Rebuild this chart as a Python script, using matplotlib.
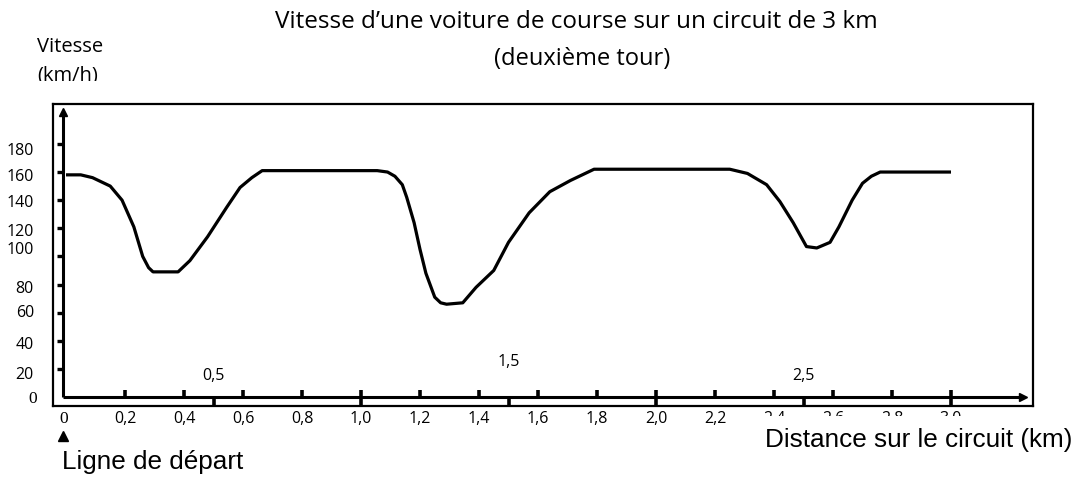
import matplotlib
matplotlib.use("Agg")
import matplotlib.pyplot as plt
from matplotlib.transforms import Bbox, TransformedBbox

# ---------------- data ----------------
distance_km = [0.0, 0.05, 0.09, 0.15, 0.19, 0.23, 0.26, 0.28, 0.295, 0.38, 0.42, 0.48,
               0.545, 0.59, 0.63, 0.665, 1.055, 1.09, 1.115, 1.14, 1.155, 1.18, 1.2, 1.22,
               1.25, 1.27, 1.29, 1.345, 1.39, 1.45, 1.5, 1.57, 1.64, 1.71, 1.79, 2.25,
               2.31, 2.375, 2.42, 2.465, 2.51, 2.545, 2.59, 2.62, 2.665, 2.70, 2.73,
               2.76, 3.0]
speed_kmh = [158, 158, 156, 150, 140, 121, 100, 92, 89, 89, 97, 114,
             135, 149, 156, 161, 161, 160, 157, 151, 142, 124, 105, 88,
             71, 67, 66, 67, 78, 90, 110, 131, 146, 154, 162, 162,
             159, 151, 139, 124, 107, 106, 110, 121, 140, 152, 157,
             160, 160]

y_ticks = [0, 20, 40, 60, 80, 100, 120, 140, 160, 180]
y_tick_labels = ["0", "20", "40", "60", "80", "100", "120", "140", "160", "180"]
x_minor_ticks = [0.2, 0.4, 0.6, 0.8, 1.2, 1.4, 1.6, 1.8, 2.2, 2.4, 2.6, 2.8]
x_major_ticks = [1.0, 2.0, 3.0]
x_half_ticks = [0.5, 1.5, 2.5]
x_half_labels = ["0,5", "1,5", "2,5"]
x_labels_pos = [0.2, 0.4, 0.6, 0.8, 1.0, 1.2, 1.4, 1.6, 1.8, 2.0, 2.2, 2.4, 2.6, 2.8, 3.0]
x_labels = ["0,2", "0,4", "0,6", "0,8", "1,0", "1,2", "1,4", "1,6", "1,8", "2,0",
            "2,2", "2,4", "2,6", "2,8", "3,0"]

# ---------------- layout ----------------
W, H = 1076, 483
fig = plt.figure(figsize=(W / 100, H / 100), dpi=100)
fig.patch.set_facecolor("white")

fl, fr, ft, fb = 53, 1033, 104, 406  # frame px
ax = fig.add_axes([fl / W, 1 - fb / H, (fr - fl) / W, (fb - ft) / H])

x0px, pxkm = 66.0, 295.0
y0px, pxu = 397.0, 1.406


def dx(px):
    return (px - x0px) / pxkm


def dy(py):
    return (y0px - py) / pxu


ax.set_xlim(dx(fl), dx(fr))
ax.set_ylim(dy(fb), dy(ft))
ax.set_xticks([])
ax.set_yticks([])
for s in ax.spines.values():
    s.set_linewidth(1.6)
    s.set_color("black")

CAL = ["Open Sans", "DejaVu Sans"]
ARI = ["Liberation Sans", "DejaVu Sans"]
SER = ["Liberation Serif", "DejaVu Serif"]
TICK_FS = 11.5

# axes lines
yaxis_x = dx(63)
ax.plot([yaxis_x, yaxis_x], [0, dy(114)], color="black", lw=2.2, solid_capstyle="butt")
ax.plot([yaxis_x], [dy(112)], marker="^", ms=6, color="black")
ax.plot([yaxis_x, dx(1020)], [0, 0], color="black", lw=2.2, solid_capstyle="butt")
ax.plot([dx(1023)], [0], marker=">", ms=6, color="black")

# y ticks
ax.hlines(y_ticks[1:], dx(57), yaxis_x, color="black", lw=2.4)
# x ticks
ax.vlines(x_minor_ticks, 0, dy(390), color="black", lw=2.6)
ax.vlines(x_major_ticks, dy(405), dy(390), color="black", lw=2.6)
ax.vlines(x_half_ticks, dy(405), 0, color="black", lw=2.6)

# curve
ax.plot(distance_km, speed_kmh, color="black", lw=2.3, solid_joinstyle="round",
        solid_capstyle="butt")

# y tick labels (positions shifted as in the original)
y_label_shift_px = [2, 6, 4, 0, 4, -6, 4, 3, 5, 7]
for v, lab, sh in zip(y_ticks, y_tick_labels, y_label_shift_px):
    if lab == "0":
        ax.text(dx(37), v - sh / pxu, lab, ha="right", va="center", fontsize=12.5,
                family=SER, clip_on=False)
    else:
        ax.text(dx(34), v - sh / pxu, lab, ha="right", va="center", fontsize=TICK_FS,
                family=CAL, clip_on=False)

# x tick labels under frame
clip_box = TransformedBbox(Bbox.from_extents(0, 1 - 416 / H, 1, 1), fig.transFigure)
ax.text(-0.008, dy(419), "0", ha="center", va="center", fontsize=12.5, family=SER,
        clip_on=False)
for v, lab in zip(x_labels_pos, x_labels):
    t = ax.text(v, dy(419), lab, ha="center", va="center", fontsize=TICK_FS, family=CAL)
    if v > 2.3:
        t.set_clip_on(True)
        t.set_clip_box(clip_box)
    else:
        t.set_clip_on(False)

half_label_py = [376, 362, 376]
for v, lab, py in zip(x_half_ticks, x_half_labels, half_label_py):
    ax.text(v, dy(py), lab, ha="center", va="center", fontsize=TICK_FS, family=CAL,
            clip_on=False)

# start arrow
ax.plot([-0.01], [dy(436)], marker="^", ms=7, color="black", clip_on=False)

# texts
def P(x, y):
    return x / W, 1 - y / H


fig.text(*P(576, 22), "Vitesse d\u2019une voiture de course sur un circuit de 3 km",
         ha="center", va="center", fontsize=17.5, family=CAL)
fig.text(*P(582, 59), "(deuxième tour)", ha="center", va="center", fontsize=17, family=CAL)
fig.text(*P(37, 47), "Vitesse", ha="left", va="center", fontsize=14.5, family=CAL)
t = fig.text(*P(37, 76), "(km/h)", ha="left", va="center", fontsize=14.5, family=CAL)
t.set_clip_on(True)
t.set_clip_box(TransformedBbox(Bbox.from_extents(0, 1 - 81 / H, 1, 1), fig.transFigure))
fig.text(*P(62, 462), "Ligne de départ", ha="left", va="center", fontsize=18.8, family=ARI)
fig.text(*P(1072, 440), "Distance sur le circuit (km)", ha="right", va="center",
         fontsize=18.8, family=ARI)

fig.savefig("out.png", dpi=100, facecolor="white")
